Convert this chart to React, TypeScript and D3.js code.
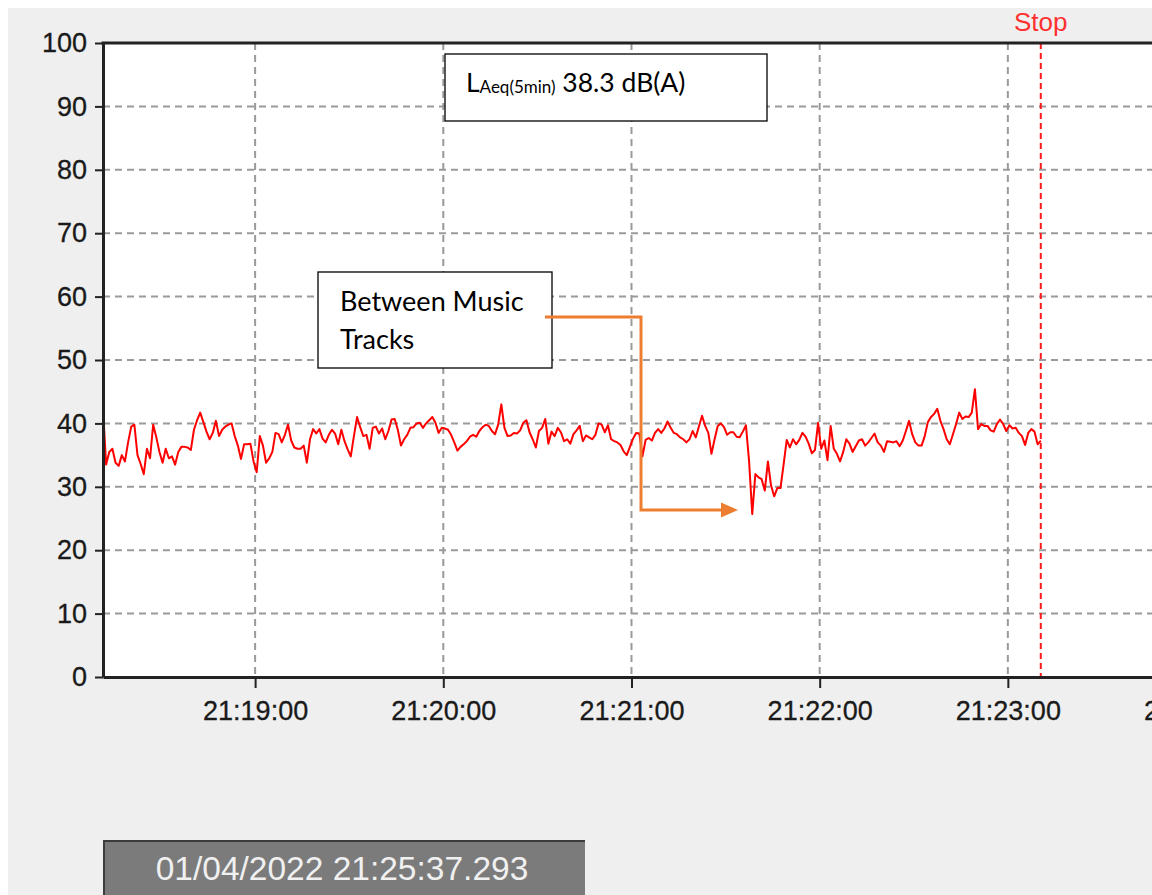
import React, { useEffect, useRef } from "react";
import * as d3 from "d3";

// sound level, dB(A), one sample per second from 21:18:11.5
const levelsA = [42.3, 33.5, 35.5, 36, 33.8, 33.3, 35, 34, 37, 39.5, 39.8, 35, 33.6, 32, 36, 34.5, 39.8, 37.8, 35.5, 33.8, 36, 34.5, 34.8, 33.5, 35.5, 36.3, 36.3, 36.2, 35.8, 39, 40.5, 41.7, 40.2, 38.7, 37.5, 38.5, 40.4, 38, 39, 39.5, 39.8, 40, 38, 36.5, 34.4, 36.7, 36.7, 36.8, 34];
const levelsB = [32.3, 38, 36.5, 33.8, 34.5, 35.5, 38.5, 38.3, 37, 38.2, 39.8, 37.3, 36.2, 36, 36, 36.5, 33.8, 37.5, 39.1, 38.4, 39.1, 37.6, 37, 38.2, 39, 38.4, 36.7, 39, 37.2, 35.9, 34.8, 38, 41, 39.4, 38, 38.2, 36, 39.3, 39.5, 38.4, 39.2, 37.5, 38.8, 40.6, 40.7, 39, 36.5, 37.5, 38.2];
const levelsC = [39.3, 39.4, 40, 40.1, 39.3, 40, 40.5, 41, 40.1, 38.5, 39.3, 39.2, 39, 38.2, 37, 35.7, 36.3, 36.7, 37.2, 37.9, 38.2, 37.9, 38.8, 39.4, 39.8, 39.6, 38.8, 38.3, 39.8, 43, 39.3, 38, 38.1, 38.5, 38.4, 38.9, 40.1, 40.5, 38.6, 37.5, 36.2, 38.8, 39.3, 40.7, 36.8, 38.7, 38, 39.3, 38.6, 37.2];
const levelsD = [37.5, 36.8, 38.3, 38.9, 39.6, 37.2, 38.1, 37.8, 37.5, 38.2, 40, 39.8, 38.6, 39.7, 37.5, 37.2, 37, 36.6, 35.6, 35, 36.3, 37.6, 38.5, 38.4, 34.8, 37.4, 37.7, 37.3, 38.5, 39.1, 38.5, 39.2, 40.3, 39.3, 38.5, 38.3, 37.8, 37.5, 37, 37.5, 38.8, 37.8, 39.5, 41.2, 39.6, 38.5, 35.2, 37.5, 39.6];
const levelsE = [40, 39.4, 38.2, 38.6, 38.6, 37.9, 37.8, 38.7, 39.7, 34, 25.7, 32, 31.5, 31.2, 29.4, 34, 30.2, 28.5, 29.8, 29.8, 33.5, 37.4, 36.2, 37.5, 36.7, 37.4, 38.5, 37.9, 36.8, 35.3, 35.8, 40.1, 36, 37.3, 34.2, 39.6, 36, 35.2, 34, 35.5, 37.5, 36.8, 35.5, 36.4, 37.3, 37.5, 36.5, 37, 37.7, 38.4, 37, 36.5, 35.5];
const levelsF = [37.2, 37.1, 37, 37.2, 36.4, 37.3, 38.8, 40.4, 38.3, 37, 36.5, 36.5, 38, 40.2, 41, 41.5, 42.3, 40.4, 39.1, 37.5, 36.7, 38.3, 39.9, 41.7, 40.7, 41.1, 41, 41.7, 45.4, 39.1, 39.9, 39.6, 39.6, 38.9, 38.7, 39.9, 40.6, 39.9, 38.8, 39.7, 39.2, 39.3, 38.5, 38, 36.6, 38.5, 39.1, 38.7, 36.7, 37.3];

const yTicks = [0, 10, 20, 30, 40, 50, 60, 70, 80, 90, 100];
const timeTicks = ["21:19:00", "21:20:00", "21:21:00", "21:22:00", "21:23:00", "21:24:00"];
const day = "01/04/2022";
const startClock = "21:18:11.500";
const viewSeconds = 340.2;
const leqValue = "38.3 dB(A)";
const noteLines = ["Between Music", "Tracks"];
const stamp = "01/04/2022 21:25:37.293";

const axisFont = "'Liberation Sans', Arial, sans-serif";
const noteFont = "Lato, 'Open Sans', sans-serif";

export default function App() {
    const ref = useRef<SVGSVGElement | null>(null);

    useEffect(() => {
        const svg = d3.select(ref.current);
        svg.selectAll("*").remove();

        const parse = d3.timeParse("%d/%m/%Y %H:%M:%S.%L");
        const t0 = parse(day + " " + startClock) as Date;
        const levels = [...levelsA, ...levelsB, ...levelsC, ...levelsD, ...levelsE, ...levelsF];
        const data = levels.map((v, i) => ({ t: new Date(t0.getTime() + i * 1000), v }));
        const tickDates = timeTicks.map((s) => parse(day + " " + s + ".000") as Date);

        // plot box
        const left = 103, top = 43, bottom = 677, right = 1170;

        const x = d3.scaleTime()
            .domain([t0, new Date(t0.getTime() + viewSeconds * 1000)])
            .range([left, right]);
        const y = d3.scaleLinear().domain([0, 100]).range([bottom, top]);

        // backgrounds
        svg.append("rect").attr("x", 0).attr("y", 0).attr("width", 1152).attr("height", 895).attr("fill", "#ffffff");
        svg.append("rect").attr("x", 8).attr("y", 8).attr("width", 1144).attr("height", 887).attr("fill", "#efefef");
        svg.append("rect").attr("x", left).attr("y", top).attr("width", right - left).attr("height", bottom - top).attr("fill", "#ffffff");

        // grid
        const grid = svg.append("g").attr("stroke", "#9a9a9a").attr("stroke-width", 2).attr("stroke-dasharray", "7,5");
        grid.selectAll("line.h")
            .data(yTicks.filter((d) => d > 0 && d < 100))
            .enter()
            .append("line")
            .attr("x1", left).attr("x2", right)
            .attr("y1", (d) => y(d)).attr("y2", (d) => y(d));
        grid.selectAll("line.v")
            .data(tickDates)
            .enter()
            .append("line")
            .attr("x1", (d) => x(d)).attr("x2", (d) => x(d))
            .attr("y1", top).attr("y2", bottom);

        // stop marker
        const stopT = data[data.length - 1].t;
        svg.append("line")
            .attr("x1", x(stopT)).attr("x2", x(stopT))
            .attr("y1", top).attr("y2", bottom)
            .attr("stroke", "#ff1a1a").attr("stroke-width", 2).attr("stroke-dasharray", "6,4");
        svg.append("text")
            .attr("x", x(stopT)).attr("y", 31)
            .attr("text-anchor", "middle")
            .attr("font-family", axisFont).attr("font-size", 26)
            .attr("fill", "#ff3030")
            .text("Stop");

        // level trace
        const line = d3.line<{ t: Date; v: number }>()
            .x((d) => x(d.t))
            .y((d) => y(d.v));
        svg.append("path")
            .datum(data)
            .attr("d", line)
            .attr("fill", "none")
            .attr("stroke", "#ff0000")
            .attr("stroke-width", 2)
            .attr("stroke-linejoin", "round");

        // axes
        const yAxis = svg.append("g")
            .attr("transform", "translate(" + left + ",0)")
            .call(d3.axisLeft(y).tickValues(yTicks).tickSize(8).tickSizeOuter(0).tickPadding(8));
        const xAxis = svg.append("g")
            .attr("transform", "translate(0," + bottom + ")")
            .call(d3.axisBottom(x).tickValues(tickDates)
                .tickFormat((d) => d3.timeFormat("%H:%M:%S")(d as Date))
                .tickSize(11).tickSizeOuter(0).tickPadding(13));
        [yAxis, xAxis].forEach((g) => {
            g.select(".domain").attr("stroke", "#222").attr("stroke-width", 3);
            g.selectAll(".tick line").attr("stroke", "#222").attr("stroke-width", 2);
            g.selectAll(".tick text")
                .attr("fill", "#1a1a1a")
                .attr("font-family", axisFont)
                .attr("font-size", 27)
                .attr("stroke", "#1a1a1a")
                .attr("stroke-width", 0.3);
        });
        svg.append("line")
            .attr("x1", left - 1.5).attr("x2", 1152)
            .attr("y1", top).attr("y2", top)
            .attr("stroke", "#222").attr("stroke-width", 3);

        // LAeq note
        svg.append("rect")
            .attr("x", 445).attr("y", 54).attr("width", 322).attr("height", 67)
            .attr("fill", "#fff").attr("stroke", "#000").attr("stroke-width", 1.3);
        const leq = svg.append("text")
            .attr("x", 466).attr("y", 92)
            .attr("font-family", noteFont).attr("fill", "#000");
        leq.append("tspan").attr("font-size", 26.5).text("L");
        leq.append("tspan").attr("font-size", 17).attr("dy", 1).text("Aeq(5min)");
        leq.append("tspan").attr("font-size", 26.5).attr("dy", -1).text(" " + leqValue);

        // music-track note with elbow arrow
        svg.append("rect")
            .attr("x", 318).attr("y", 272).attr("width", 234).attr("height", 96)
            .attr("fill", "#fff").attr("stroke", "#000").attr("stroke-width", 1.3);
        svg.selectAll("text.note")
            .data(noteLines)
            .enter()
            .append("text")
            .attr("x", 340)
            .attr("y", (d, i) => 311 + i * 37.5)
            .attr("font-family", noteFont).attr("font-size", 27).attr("fill", "#000")
            .text((d) => d);
        svg.append("path")
            .attr("d", "M545,317H641V510H724")
            .attr("fill", "none").attr("stroke", "#ed7d31").attr("stroke-width", 3);
        svg.append("path")
            .attr("d", "M721,502.5L738,510L721,517.5Z")
            .attr("fill", "#ed7d31");

        // timestamp panel
        svg.append("rect")
            .attr("x", 103).attr("y", 840).attr("width", 482).attr("height", 60)
            .attr("fill", "#7b7b7b");
        svg.append("path")
            .attr("d", "M104,900V841H585")
            .attr("fill", "none").attr("stroke", "#3c3c3c").attr("stroke-width", 2);
        svg.append("text")
            .attr("x", 342).attr("y", 880)
            .attr("text-anchor", "middle")
            .attr("font-family", axisFont).attr("font-size", 33.5)
            .attr("fill", "#f0f0f0")
            .text(stamp);
    }, []);

    return (
        <svg
            ref={ref}
            width={1152}
            height={895}
            style={{ position: "fixed", left: 0, top: 0, display: "block" }}
        />
    );
}
